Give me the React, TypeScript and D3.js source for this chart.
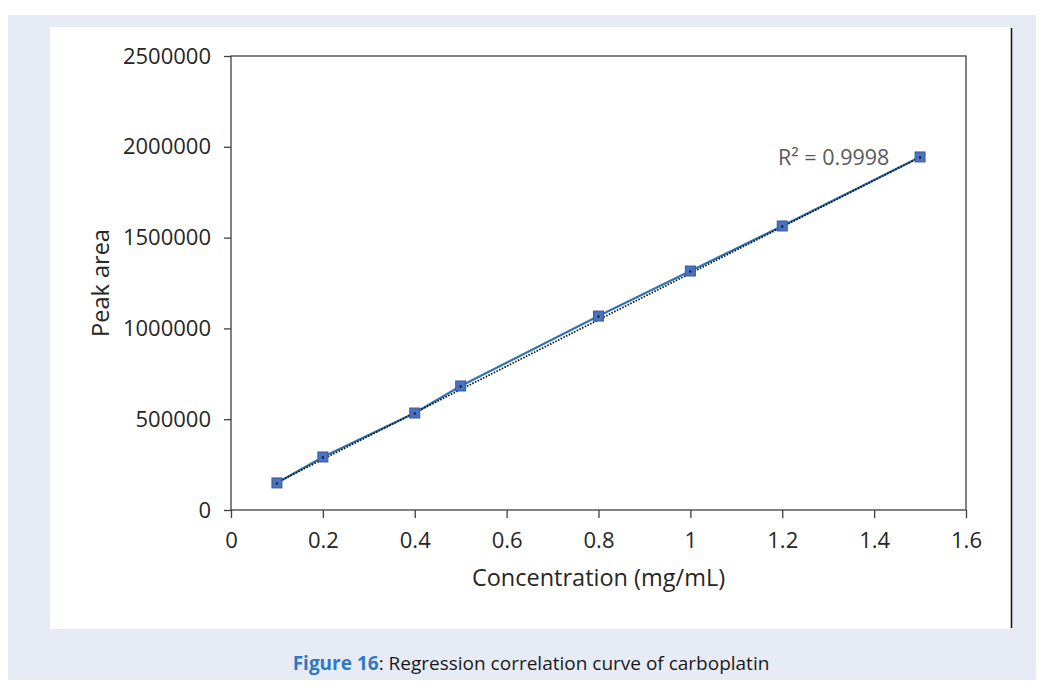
import React, { useRef, useEffect } from 'react';
import * as d3 from 'd3';

// concentration (mg/mL) and peak area
const concentrations = [0.1, 0.2, 0.4, 0.5, 0.8, 1.0, 1.2, 1.5];
const peakAreas = [149000, 292000, 534000, 683000, 1068000, 1316000, 1564000, 1944000];
const xTicks = [0, 0.2, 0.4, 0.6, 0.8, 1, 1.2, 1.4, 1.6];
const yTicks = [0, 500000, 1000000, 1500000, 2000000, 2500000];
const r2Label = 'R² = 0.9998';

const layout = {
  width: 1044,
  height: 688,
  plotLeft: 231,
  plotRight: 966,
  plotTop: 56,
  plotBottom: 510,
};

const font = "'Open Sans', 'Noto Sans', sans-serif";

export default function App() {
  const ref = useRef<SVGSVGElement>(null);

  useEffect(() => {
    const svg = d3.select(ref.current);
    const g = svg.select('#vis');
    g.selectAll('*').remove();

    const x = d3.scaleLinear().domain([0, 1.6]).range([layout.plotLeft, layout.plotRight]);
    const y = d3.scaleLinear().domain([0, 2500000]).range([layout.plotBottom, layout.plotTop]);

    const pts = concentrations.map((c, i) => ({ c, a: peakAreas[i] }));

    // plot frame
    g.append('rect')
      .attr('x', layout.plotLeft)
      .attr('y', layout.plotTop)
      .attr('width', layout.plotRight - layout.plotLeft)
      .attr('height', layout.plotBottom - layout.plotTop)
      .attr('fill', 'none')
      .attr('stroke', '#404040')
      .attr('stroke-width', 1.3);

    // y axis
    const yAxis = g.append('g')
      .attr('transform', `translate(${layout.plotLeft},0)`)
      .call(d3.axisLeft(y).tickValues(yTicks).tickFormat(d3.format('d')).tickSize(7).tickSizeOuter(0).tickPadding(13));
    yAxis.select('.domain').remove();
    yAxis.selectAll('line').attr('stroke', '#404040').attr('stroke-width', 1.3);
    yAxis.selectAll('text').attr('font-family', font).attr('font-size', 22).attr('fill', '#262626');

    // x axis
    const xAxis = g.append('g')
      .attr('transform', `translate(0,${layout.plotBottom})`)
      .call(d3.axisBottom(x).tickValues(xTicks).tickFormat(d => String(d)).tickSize(8).tickSizeOuter(0).tickPadding(14));
    xAxis.select('.domain').remove();
    xAxis.selectAll('line').attr('stroke', '#404040').attr('stroke-width', 1.3);
    xAxis.selectAll('text').attr('font-family', font).attr('font-size', 22).attr('fill', '#262626');

    // series line
    const line = d3.line<{ c: number; a: number }>().x(d => x(d.c)).y(d => y(d.a));
    g.append('path')
      .datum(pts)
      .attr('d', line)
      .attr('fill', 'none')
      .attr('stroke', '#2e75b6')
      .attr('stroke-width', 2.2);

    // linear trendline (least squares)
    const mx = d3.mean(concentrations) as number;
    const my = d3.mean(peakAreas) as number;
    const slope = d3.sum(pts, d => (d.c - mx) * (d.a - my)) / d3.sum(pts, d => (d.c - mx) ** 2);
    const intercept = my - slope * mx;
    const ext = d3.extent(concentrations) as [number, number];
    g.append('path')
      .datum(ext.map(c => ({ c, a: intercept + slope * c })))
      .attr('d', line)
      .attr('fill', 'none')
      .attr('stroke', '#111')
      .attr('stroke-width', 1.8)
      .attr('stroke-dasharray', '1.5,1.5')
      .attr('transform', 'translate(0,1.5)');

    // markers
    g.selectAll('.pt')
      .data(pts)
      .join('rect')
      .attr('class', 'pt')
      .attr('x', d => x(d.c) - 5)
      .attr('y', d => y(d.a) - 5)
      .attr('width', 10)
      .attr('height', 10)
      .attr('fill', '#4a72c0')
      .attr('stroke', '#3a5a99')
      .attr('stroke-width', 1);
    g.selectAll('.dot')
      .data(pts)
      .join('rect')
      .attr('class', 'dot')
      .attr('x', d => x(d.c) - 1)
      .attr('y', d => y(d.a) - 0.5)
      .attr('width', 2)
      .attr('height', 2)
      .attr('fill', '#111');
  }, []);

  return (
    <div style={{ margin: -8 }}>
      <svg ref={ref} width={layout.width} height={layout.height} style={{ display: 'block' }}>
        <rect x={0} y={0} width={1044} height={688} fill="#ffffff" />
        <rect x={0} y={0} width={1044} height={2} fill="#111" />
        <rect x={8} y={15} width={1036} height={673} fill="#e7ebf5" />
        <rect x={50} y={27} width={961} height={602} fill="#ffffff" />
        <line x1={1011.5} y1={28} x2={1011.5} y2={628} stroke="#111" strokeWidth={1.5} />
        <g id="vis" />
        <text x={598.5} y={586} textAnchor="middle" fontFamily={font} fontSize={23.5} fill="#262626">
          Concentration (mg/mL)
        </text>
        <text
          transform="translate(109,283) rotate(-90)"
          textAnchor="middle"
          fontFamily={font}
          fontSize={23.5}
          fill="#262626"
        >
          Peak area
        </text>
        <text x={778} y={165} fontFamily={font} fontSize={21.5} fill="#595959">
          {r2Label}
        </text>
        <text x={531} y={670} textAnchor="middle" fontFamily={font} fontSize={19} fill="#1a1a1a">
          <tspan fill="#2f78c4" fontWeight="bold">Figure 16</tspan>
          <tspan>: Regression correlation curve of carboplatin</tspan>
        </text>
      </svg>
    </div>
  );
}
